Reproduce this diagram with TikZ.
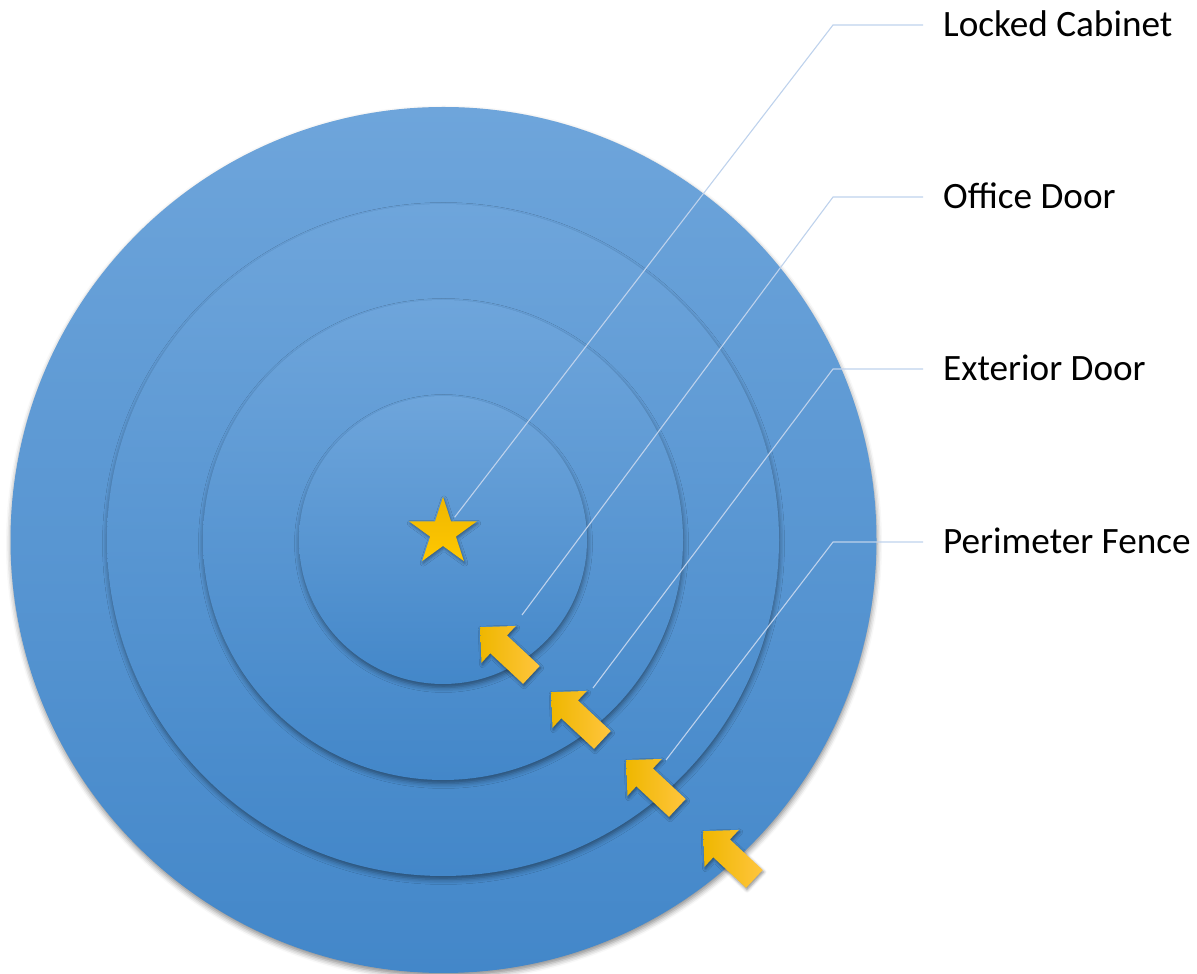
\documentclass[tikz,border=0pt]{standalone}
\usepackage{fontspec}
\setmainfont{Carlito}
\usetikzlibrary{shapes.geometric,shapes.arrows,shadows.blur}
\definecolor{ringtop}{HTML}{6EA5DB}
\definecolor{ringbot}{HTML}{4387C9}
\definecolor{leader}{HTML}{BED2EC}
\definecolor{goldA}{HTML}{EFB700}
\definecolor{goldB}{HTML}{FFC800}
\definecolor{goldC}{HTML}{FFC53E}
\begin{document}
\begin{tikzpicture}[x=1pt,y=1pt,
  ring/.style={circle, inner sep=0pt, minimum size=#1, draw=none,
    top color=ringtop, bottom color=ringbot,
    blur shadow={shadow xshift=0.5pt, shadow yshift=-3.5pt, shadow blur radius=5pt, shadow opacity=45}},
  inarrow/.style={single arrow, single arrow head extend=13pt, single arrow tip angle=90,
    minimum height=70pt, inner xsep=0pt, inner ysep=12pt, draw=none,
    left color=goldA, middle color=goldB, right color=goldC,
    shape border rotate=0, rotate=137, anchor=tip,
    blur shadow={shadow xshift=1pt, shadow yshift=-2pt, shadow blur radius=3pt, shadow opacity=45}},
  leader/.style={draw=leader, line width=1.1pt},
  lbl/.style={anchor=west, inner xsep=20pt, inner ysep=0pt, text height=24pt, text depth=0pt,
    font=\fontsize{37.2}{44}\selectfont, text=black}]
\useasboundingbox (0,0) rectangle (1197,974);
% concentric rings
\node[ring=866pt] (r1) at (443.5,434) {};
\node[ring=672pt] (r2) at (443,434) {};
\node[ring=480pt] (r3) at (443,434) {};
\node[ring=288pt] (r4) at (443,434) {};
% star
\node[star, star points=5, star point ratio=2.618, minimum size=71pt, inner sep=0pt, draw=none,
  top color=goldA, bottom color=goldB,
  blur shadow={shadow xshift=1pt, shadow yshift=-2pt, shadow blur radius=3pt, shadow opacity=40}]
  (star) at (443,441.6) {};
% arrows
\node[inarrow] (a1) at (480,347) {};
\node[inarrow] (a2) at (551,282) {};
\node[inarrow] (a3) at (626,214) {};
\node[inarrow] (a4) at (703,143) {};
% labels
\node[lbl] (t1) at (923,949) {Locked Cabinet};
\node[lbl] (t2) at (923,777) {Office Door};
\node[lbl] (t3) at (923,605) {Exterior Door};
\node[lbl] (t4) at (923,432) {Perimeter Fence};
% leader coordinates
\coordinate (e1) at (833,949);
\coordinate (e2) at (833,777);
\coordinate (e3) at (833,605);
\coordinate (e4) at (833,432);
\coordinate (p2) at (522,359);
\coordinate (p3) at (593,286);
\coordinate (p4) at (666,214);
\draw[leader, shorten <=5pt] (star) -- (e1) -- (t1.west);
\draw[leader] (p2) -- (e2) -- (t2.west);
\draw[leader] (p3) -- (e3) -- (t3.west);
\draw[leader] (p4) -- (e4) -- (t4.west);
\end{tikzpicture}
\end{document}
